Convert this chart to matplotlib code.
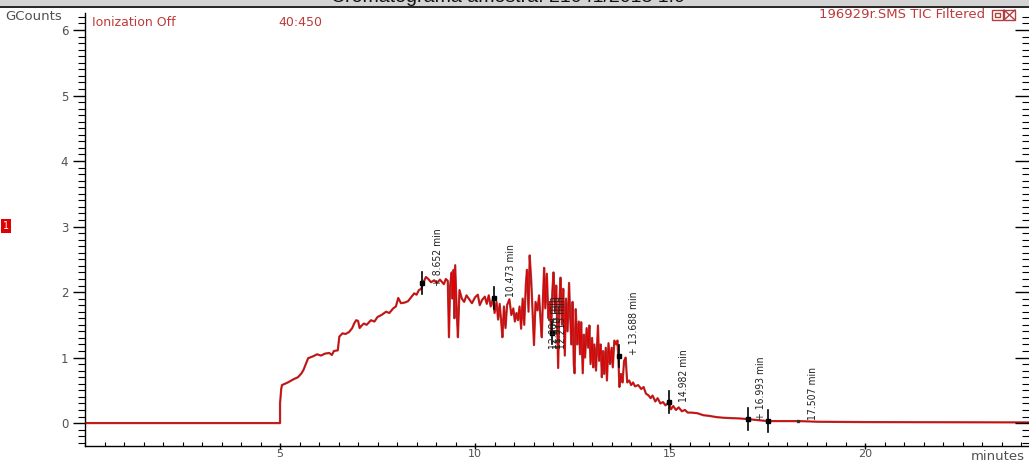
import matplotlib
matplotlib.use('Agg')
import matplotlib.pyplot as plt
from matplotlib.patches import Rectangle
from matplotlib.lines import Line2D
from matplotlib.ticker import MultipleLocator

plt.rcParams['font.family'] = ['DejaVu Sans']

# TIC trace (minutes, GCounts)
tempo = [0.0, 5.0, 5.0, 5.03, 5.05, 5.2, 5.35, 5.46, 5.55, 5.6, 5.68, 5.72, 5.85, 5.95,
         6.05, 6.15, 6.26, 6.33, 6.38, 6.48, 6.52, 6.6, 6.68, 6.77, 6.85, 6.9, 6.95,
         7.0, 7.04, 7.08, 7.15, 7.22, 7.33, 7.42, 7.5, 7.6, 7.72, 7.8, 7.9, 7.97,
         8.03, 8.1, 8.2, 8.28, 8.36, 8.44, 8.5, 8.56, 8.62, 8.67, 8.74, 8.8, 8.87,
         8.95, 9.02, 9.1, 9.2, 9.25,
         9.30, 9.33, 9.36, 9.40, 9.42, 9.45, 9.47, 9.49, 9.53, 9.56, 9.60, 9.66, 9.72,
         9.78, 9.85, 9.92, 10.00, 10.07, 10.12, 10.18, 10.25, 10.30, 10.35, 10.40, 10.46,
         10.50, 10.55, 10.59, 10.63, 10.67, 10.70, 10.74, 10.78, 10.82, 10.88, 10.93,
         10.98, 11.02, 11.06, 11.10, 11.14, 11.18, 11.22, 11.26, 11.30, 11.33, 11.37,
         11.40, 11.44, 11.48, 11.51, 11.55, 11.60, 11.64, 11.68, 11.71, 11.74, 11.77,
         11.80, 11.84, 11.88, 11.92, 11.95, 11.98, 12.01, 12.05, 12.08, 12.11, 12.13,
         12.16, 12.19, 12.23, 12.26, 12.30, 12.33, 12.37, 12.41, 12.44, 12.47, 12.50,
         12.53, 12.55, 12.58, 12.62, 12.66, 12.69, 12.72, 12.76, 12.79, 12.82, 12.86,
         12.90, 12.93, 12.96, 13.00, 13.03, 13.06, 13.10, 13.15, 13.18, 13.22, 13.25,
         13.28, 13.31, 13.35, 13.38, 13.42, 13.46, 13.50, 13.53, 13.57, 13.62, 13.65,
         13.67, 13.70, 13.74, 13.78, 13.82, 13.86, 13.90, 13.95, 14.00, 14.05, 14.10,
         14.18, 14.26, 14.32, 14.38, 14.45, 14.50, 14.55, 14.62, 14.68, 14.75, 14.82,
         14.88, 14.97, 15.02, 15.08, 15.15, 15.22, 15.30, 15.38, 15.45, 15.55,
         15.7, 15.85, 16.0, 16.2, 16.4, 16.8, 17.0, 17.5, 18.3, 18.8, 20.0, 24.2]
sinal = [0.0, 0.0, 0.30, 0.52, 0.58, 0.62, 0.67, 0.70, 0.76, 0.81, 0.93, 0.99, 1.02, 1.05,
         1.03, 1.06, 1.07, 1.04, 1.10, 1.11, 1.32, 1.37, 1.36, 1.39, 1.45, 1.52, 1.57,
         1.56, 1.45, 1.48, 1.52, 1.50, 1.57, 1.55, 1.62, 1.65, 1.70, 1.68, 1.75, 1.78,
         1.91, 1.83, 1.84, 1.86, 1.92, 1.98, 1.96, 2.03, 2.05, 2.14, 2.23, 2.20, 2.15,
         2.18, 2.14, 2.19, 2.12, 2.20,
         2.17, 1.31, 2.10, 2.30, 1.90, 2.34, 1.60, 2.41, 1.70, 1.31, 2.03, 1.90, 1.85,
         1.95, 1.89, 1.83, 1.92, 1.96, 1.80, 1.88, 1.93, 1.82, 1.95, 1.78, 1.90,
         1.68, 1.85, 1.58, 1.82, 1.55, 1.31, 1.78, 1.45, 1.80, 1.89, 1.65,
         1.75, 1.55, 1.68, 1.57, 1.78, 1.44, 1.90, 1.50, 2.10, 2.34, 1.70,
         2.56, 2.17, 1.60, 1.19, 1.85, 1.72, 1.95, 1.55, 1.31, 1.90, 2.37,
         1.75, 2.28, 1.60, 1.85, 1.37, 2.00, 2.30, 1.70, 2.10, 1.30, 0.84,
         1.80, 2.22, 1.50, 2.05, 1.03, 1.90, 1.40, 2.14, 1.60, 1.20, 1.85,
         0.90, 0.76, 1.74, 1.20, 1.55, 1.05, 1.54, 0.76, 1.35, 1.00, 1.45,
         1.15, 1.49, 0.90, 1.30, 0.85, 1.20, 0.80, 1.49, 0.95, 1.20, 0.70,
         1.10, 0.75, 1.15, 0.65, 1.22, 0.90, 1.15, 0.85, 1.26, 1.20, 1.26,
         1.03, 0.55, 0.75, 0.62, 0.95, 1.00, 0.62, 0.65, 0.58, 0.62, 0.56,
         0.58, 0.52, 0.55, 0.45, 0.42, 0.38, 0.42, 0.33, 0.38, 0.30, 0.32,
         0.27, 0.32, 0.21, 0.26, 0.20, 0.24, 0.18, 0.20, 0.16, 0.16,
         0.15, 0.12, 0.11, 0.09, 0.08, 0.07, 0.06, 0.03, 0.03, 0.02, 0.015, 0.01]

# integrated peaks: retention time, apex height, label
picos_tr = [8.652, 10.473, 11.970, 13.688, 14.982, 16.993, 17.507]
picos_alt = [2.14, 1.91, 1.37, 1.02, 0.32, 0.06, 0.03]
picos_txt = ['+ 8.652 min', '10.473 min', '11.970 min', '+ 13.688 min',
             '14.982 min', '+ 16.993 min', '17.507 min']
# where each rotated label sits (minutes, GCounts)
rot_x = [9.05, 10.92, 12.12, 14.08, 15.36, 17.33, 18.67]
rot_y = [2.10, 1.92, 1.13, 1.04, 0.32, 0.05, 0.05]

fig = plt.figure(figsize=(10.29, 4.63), dpi=100)
ax = fig.add_axes([85 / 1029, 17 / 463, 944 / 1029, 433 / 463])

# trace: dark edge + red core
ax.plot(tempo, sinal, color='#a83a3a', linewidth=1.6, zorder=2)
ax.plot(tempo, sinal, color='#e00000', linewidth=0.7, zorder=3)

# peak markers
for tr, h in zip(picos_tr, picos_alt):
    ax.plot([tr, tr], [h - 0.17, h + 0.17], color='black', linewidth=1.2, zorder=4)
    ax.plot(tr, h, marker='s', markersize=3, color='black', zorder=5)
ax.plot(18.28, 0.03, marker='s', markersize=2, color='#333333', zorder=5)

lbl = dict(rotation=90, ha='center', va='bottom', fontsize=7.5, family='DejaVu Sans',
           fontstretch='condensed', color='#222222', zorder=6)
for x, y, s in zip(rot_x, rot_y, picos_txt):
    ax.text(x, y, s, **lbl)
# overlapping labels around 12 min
for dx, s in [(-0.1, '12.084 min'), (0.1, '12.215 min')]:
    ax.text(12.12 + dx, 1.13, s, **lbl)

ax.set_xlim(0, 24.2)
ax.set_ylim(-0.35, 6.26)

ax.xaxis.set_minor_locator(MultipleLocator(0.5))
ax.yaxis.set_major_locator(MultipleLocator(1))
ax.yaxis.set_minor_locator(MultipleLocator(0.1))
ax.set_xticks([5, 10, 15, 20])

ax.spines['top'].set_visible(False)
ax.spines['right'].set_visible(False)
for s in ['left', 'bottom']:
    ax.spines[s].set_linewidth(1.0)

ax.tick_params(axis='y', which='major', direction='out', length=9, width=1,
               labelsize=8.5, labelcolor='#505050', pad=3)
ax.tick_params(axis='y', which='minor', direction='out', length=5, width=0.8)
ax.tick_params(axis='x', which='major', direction='inout', length=5, width=1,
               labelsize=8, labelcolor='#505050', pad=0)
ax.tick_params(axis='x', which='minor', direction='in', length=3, width=0.8)

# right-side ticks pointing inward
ax2 = ax.twinx()
ax2.set_ylim(ax.get_ylim())
ax2.yaxis.set_major_locator(MultipleLocator(1))
ax2.yaxis.set_minor_locator(MultipleLocator(0.1))
for s in ['top', 'right', 'left', 'bottom']:
    ax2.spines[s].set_visible(False)
ax2.tick_params(axis='y', which='major', direction='in', length=10, width=1, labelright=False)
ax2.tick_params(axis='y', which='minor', direction='in', length=5, width=0.8)

# header band
fig.patches.append(Rectangle((0, 457 / 463), 1, 6 / 463, transform=fig.transFigure,
                             facecolor='#d4d4d4', edgecolor='none', zorder=0))
fig.lines.append(Line2D([0, 1], [456.5 / 463, 456.5 / 463], transform=fig.transFigure,
                        color='black', linewidth=1.2))
fig.text(508 / 1029, 460.5 / 463, 'Cromatograma amostra: 21041/2013 1:0', ha='center',
         va='baseline', fontsize=14, family=['Liberation Sans', 'DejaVu Sans'], color='#111111')

fig.text(5 / 1029, 1 - 17 / 463, 'GCounts', ha='left', va='center', fontsize=9.5,
         color='#505050')
fig.text(92 / 1029, 1 - 23 / 463, 'Ionization Off', ha='left', va='center', fontsize=9,
         color='#c03a3a')
fig.text(278 / 1029, 1 - 23 / 463, '40:450', ha='left', va='center', fontsize=9,
         color='#c03a3a')
fig.text(985 / 1029, 1 - 15 / 463, '196929r.SMS TIC Filtered', ha='right', va='center',
         fontsize=9.5, color='#c03a3a')
fig.text(1025 / 1029, 1 - 457 / 463, 'minutes', ha='right', va='center', fontsize=9.5,
         color='#505050')

# window buttons
fig.patches.append(Rectangle((992 / 1029, 1 - 20 / 463), 11 / 1029, 10 / 463,
                             transform=fig.transFigure, fill=False, edgecolor='#b04040', lw=1))
fig.patches.append(Rectangle((995 / 1029, 1 - 17 / 463), 5 / 1029, 4 / 463,
                             transform=fig.transFigure, fill=False, edgecolor='#b04040', lw=1))
fig.patches.append(Rectangle((1004 / 1029, 1 - 20 / 463), 11 / 1029, 10 / 463,
                             transform=fig.transFigure, fill=False, edgecolor='#b04040', lw=1))
fig.lines.append(Line2D([1004 / 1029, 1015 / 1029], [1 - 20 / 463, 1 - 10 / 463],
                        transform=fig.transFigure, color='#b04040', lw=1))
fig.lines.append(Line2D([1004 / 1029, 1015 / 1029], [1 - 10 / 463, 1 - 20 / 463],
                        transform=fig.transFigure, color='#b04040', lw=1))

# trace index tag
fig.text(6 / 1029, 1 - 226 / 463, '1', ha='center', va='center', fontsize=7, color='white',
         bbox=dict(boxstyle='square,pad=0.25', facecolor='#e00000', edgecolor='none'))

fig.savefig('out.png', dpi=100)
